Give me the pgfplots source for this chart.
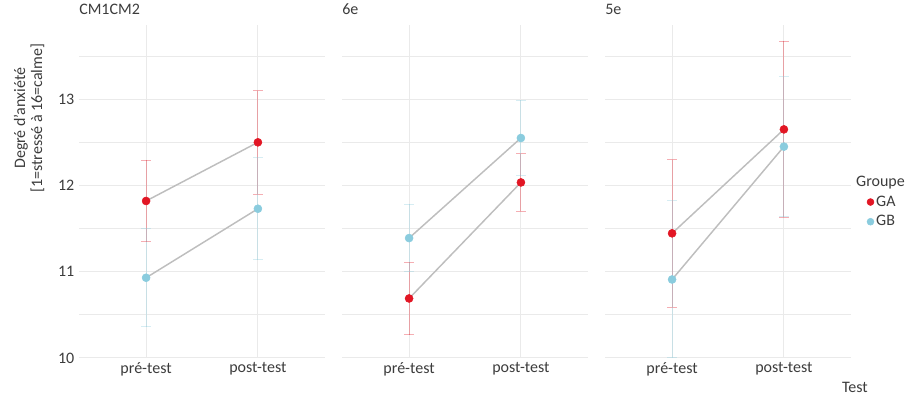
\documentclass[border=0pt]{standalone}
\usepackage{fontspec}
\setmainfont{Carlito}
\usepackage{pgfplots}
\pgfplotsset{compat=1.18}
\definecolor{gaRed}{RGB}{226,22,36}
\definecolor{gbBlue}{RGB}{138,204,222}
\definecolor{gridc}{RGB}{234,234,234}
\definecolor{txt}{RGB}{60,60,60}
\definecolor{linec}{RGB}{190,190,190}
\pgfplotsset{
  panel/.style={
    scale only axis, width=184.5pt, height=249.75pt,
    anchor=south west,
    xmin=0.4, xmax=2.6, ymin=10, ymax=13.86,
    xtick={1,2}, xticklabels={pré-test, post-test},
    ytick={10,11,12,13}, minor ytick={10.5,11.5,12.5,13.5},
    ymajorgrids, yminorgrids, xmajorgrids,
    grid style={gridc, line width=0.75pt},
    minor grid style={gridc, line width=0.75pt},
    axis line style={draw=none},
    major tick length=0pt, minor tick length=0pt,
    tick label style={font=\fontsize{12}{14}\selectfont, text=txt},
    /pgf/number format/assume math mode=true,
    title style={at={(0,1)}, anchor=base west, yshift=1.5pt, inner sep=0pt,
      font=\fontsize{12}{14}\selectfont, text=txt},
  },
  ebA/.style={draw=none, mark=none, forget plot,
    error bars/.cd, y dir=both, y explicit,
    error bar style={draw=gaRed, opacity=0.35, line width=0.75pt},
    error mark=|, error mark options={draw=gaRed, opacity=0.35, mark size=3.5pt, line width=0.75pt}},
  ebB/.style={draw=none, mark=none, forget plot,
    error bars/.cd, y dir=both, y explicit,
    error bar style={draw=gbBlue, opacity=0.35, line width=0.75pt},
    error mark=|, error mark options={draw=gbBlue, opacity=0.35, mark size=3.5pt, line width=0.75pt}},
  conn/.style={linec, line width=1.1pt, forget plot, mark=none},
  ptA/.style={only marks, mark=*, mark size=3pt, gaRed, forget plot},
  ptB/.style={only marks, mark=*, mark size=3pt, gbBlue, forget plot},
}
\begin{document}
\begin{tikzpicture}
\useasboundingbox (0,0) rectangle (686.25pt,298.5pt);
% ---------------- CM1CM2
\begin{axis}[panel, at={(59.25pt,30pt)}, title={CM1CM2},
  ylabel={Degré d'anxiété\\{[}1=stressé à 16=calme{]}},
  ylabel style={at={(axis description cs:-0.203,0.72)}, anchor=center, align=center,
    font=\fontsize{12}{12.75}\selectfont, text=txt}]
\addplot[ebA] coordinates {(1,11.82) +- (0,0.47) (2,12.50) +- (0,0.60)};
\addplot[ebB] coordinates {(1,10.93) +- (0,0.57) (2,11.73) +- (0,0.59)};
\addplot[conn] coordinates {(1,11.82) (2,12.50)};
\addplot[conn] coordinates {(1,10.93) (2,11.73)};
\addplot[ptA] coordinates {(1,11.82) (2,12.50)};
\addplot[ptB] coordinates {(1,10.93) (2,11.73)};
\end{axis}
% ---------------- 6e
\begin{axis}[panel, at={(256.5pt,30pt)}, title={6e}, yticklabels={}]
\addplot[ebA] coordinates {(1,10.69) +- (0,0.42) (2,12.035) +- (0,0.335)};
\addplot[ebB] coordinates {(1,11.39) +- (0,0.39) (2,12.55) +- (0,0.44)};
\addplot[conn] coordinates {(1,10.69) (2,12.035)};
\addplot[conn] coordinates {(1,11.39) (2,12.55)};
\addplot[ptA] coordinates {(1,10.69) (2,12.035)};
\addplot[ptB] coordinates {(1,11.39) (2,12.55)};
\end{axis}
% ---------------- 5e
\begin{axis}[panel, at={(453.75pt,30pt)}, title={5e}, yticklabels={},
  xlabel={Test},
  xlabel style={at={(axis description cs:1.016,-0.087)}, anchor=center,
    font=\fontsize{12}{14}\selectfont, text=txt},
  legend style={at={(axis description cs:1.063,0.553)}, anchor=north west,
    draw=none, fill=none, inner sep=0pt, row sep=2.5pt,
    font=\fontsize{12}{14}\selectfont, text=txt,
    nodes={inner sep=1.5pt}},
  legend cell align=left]
\addplot[ebA] coordinates {(1,11.445) +- (0,0.855) (2,12.65) +- (0,1.02)};
\addplot[ebB] coordinates {(1,10.91) +- (0,0.91) (2,12.45) +- (0,0.81)};
\addplot[conn] coordinates {(1,11.445) (2,12.65)};
\addplot[conn] coordinates {(1,10.91) (2,12.45)};
\addplot[ptA] coordinates {(1,11.445) (2,12.65)};
\addplot[ptB] coordinates {(1,10.91) (2,12.45)};
\addlegendimage{empty legend}
\addlegendentry{\hspace{-15pt}Groupe}
\addlegendimage{legend image code/.code={\fill[gaRed] (0pt,0pt) circle (2.6pt);}}
\addlegendentry{GA}
\addlegendimage{legend image code/.code={\fill[gbBlue] (0pt,0pt) circle (2.6pt);}}
\addlegendentry{GB}
\end{axis}
\end{tikzpicture}
\end{document}
